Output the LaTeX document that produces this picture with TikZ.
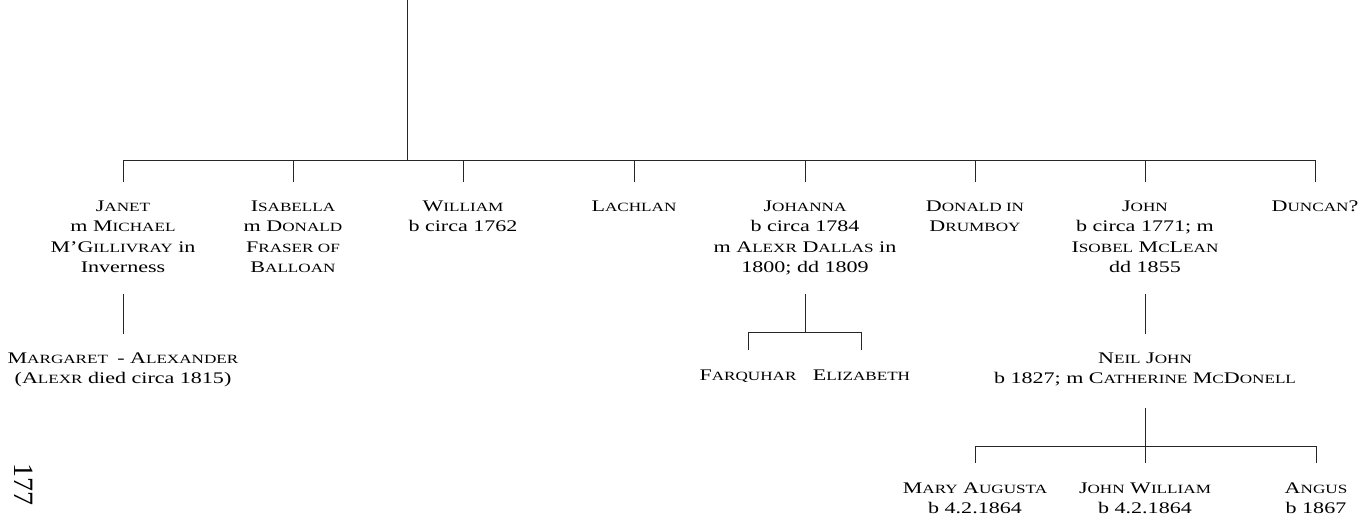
\documentclass[tikz,border=0pt]{standalone}
\usepackage{fontspec}
\setmainfont{Liberation Serif}
\newcommand\SC[2]{#1{\fontsize{12.6}{20.5}\selectfont #2}}
\begin{document}
\begin{tikzpicture}[x=1pt,y=-1pt,
  lbl/.style={anchor=north,inner sep=0pt,align=center,xscale=1.36,
    font=\fontsize{16.2}{20.5}\selectfont},
  ln/.style={line width=0.9pt,draw=black!85}]
\useasboundingbox (0,0) rectangle (1361,521);
% generation 1
\node[lbl] (janet) at (123,196.6) {\strut\SC{J}{ANET}\\m \SC{M}{ICHAEL}\\M’\SC{G}{ILLIVRAY} in\\Inverness\strut};
\node[lbl] (isabella) at (293,196.6) {\strut\SC{I}{SABELLA}\\m \SC{D}{ONALD}\\\SC{F}{RASER OF}\\\SC{B}{ALLOAN}\strut};
\node[lbl] (william) at (463,196.6) {\strut\SC{W}{ILLIAM}\\b circa 1762\strut};
\node[lbl] (lachlan) at (634,196.6) {\strut\SC{L}{ACHLAN}};
\node[lbl] (johanna) at (805,196.6) {\strut\SC{J}{OHANNA}\\b circa 1784\\m \SC{A}{LEXR} \SC{D}{ALLAS} in\\1800; dd 1809\strut};
\node[lbl] (donald) at (975,196.6) {\strut\SC{D}{ONALD IN}\\\SC{D}{RUMBOY}\strut};
\node[lbl] (john) at (1145,196.6) {\strut\SC{J}{OHN}\\b circa 1771; m\\\SC{I}{SOBEL} \SC{M}{C}\SC{L}{EAN}\\dd 1855\strut};
\node[lbl] (duncan) at (1315,196.6) {\strut\SC{D}{UNCAN}?};
% generation 2
\node[lbl] (margaret) at (123,348.6) {\strut\SC{M}{ARGARET} \,- \SC{A}{LEXANDER}\\(\SC{A}{LEXR} died circa 1815)\strut};
\node[lbl] (farquhar) at (748,365.6) {\strut\SC{F}{ARQUHAR}};
\node[lbl] (elizabeth) at (861.5,365.6) {\strut\SC{E}{LIZABETH}};
\node[lbl] (neil) at (1145,348.6) {\strut\SC{N}{EIL} \SC{J}{OHN}\\b 1827; m \SC{C}{ATHERINE} \SC{M}{C}\SC{D}{ONELL}\strut};
% generation 3
\node[lbl] (mary) at (975,478.6) {\strut\SC{M}{ARY} \SC{A}{UGUSTA}\\b 4.2.1864\strut};
\node[lbl] (johnw) at (1145,478.6) {\strut\SC{J}{OHN} \SC{W}{ILLIAM}\\b 4.2.1864\strut};
\node[lbl] (angus) at (1316,478.6) {\strut\SC{A}{NGUS}\\b 1867\strut};
% page number
\node[inner sep=0pt,rotate=-90,font=\fontsize{28}{30}\selectfont] (page) at (23.5,485) {177};
% connectors
\coordinate (top) at (407,0);
\coordinate (fam) at (407,160);
\draw[ln] (top) -- (fam);
\draw[ln] ([yshift=14.6pt]janet.north) -- (janet.north |- fam) -- (duncan.north |- fam) -- ([yshift=14.6pt]duncan.north);
\foreach \n in {isabella,william,lachlan,johanna,donald,john}
  \draw[ln] (\n.north |- fam) -- ([yshift=14.6pt]\n.north);
\draw[ln] ([yshift=-15pt]janet.south) -- ([yshift=15pt]margaret.north);
\coordinate (jb) at (805,332);
\draw[ln] ([yshift=-15pt]johanna.south) -- (jb);
\draw[ln] ([yshift=15.6pt]farquhar.north) -- (farquhar.north |- jb) -- (elizabeth.north |- jb) -- ([yshift=15.6pt]elizabeth.north);
\draw[ln] ([yshift=-15pt]john.south) -- ([yshift=15pt]neil.north);
\coordinate (nb) at (1145,446);
\draw[ln] ([yshift=-18pt]neil.south) -- ([yshift=15.6pt]johnw.north);
\draw[ln] ([yshift=15.6pt]mary.north) -- (mary.north |- nb) -- (angus.north |- nb) -- ([yshift=15.6pt]angus.north);
\end{tikzpicture}
\end{document}
